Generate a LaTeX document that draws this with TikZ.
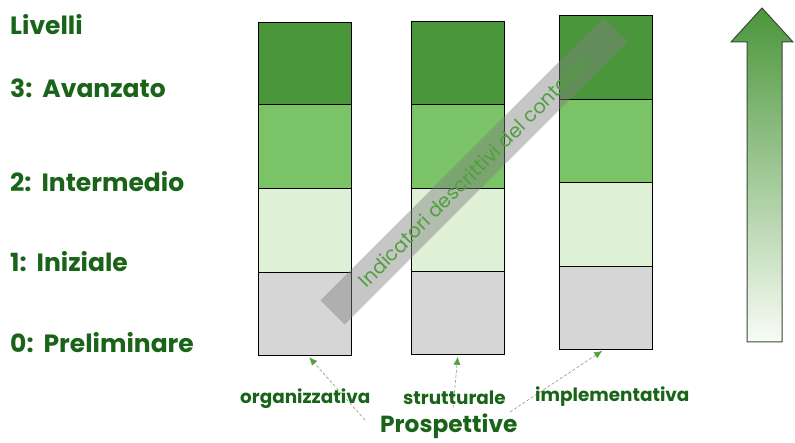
\documentclass[tikz,border=0pt]{standalone}
\usepackage{fontspec}
\setmainfont{Poppins}
\usetikzlibrary{arrows.meta}
\definecolor{txtgreen}{RGB}{26,100,26}
\definecolor{lvlthree}{RGB}{74,150,58}
\definecolor{lvltwo}{RGB}{122,195,102}
\definecolor{lvlone}{RGB}{222,240,214}
\definecolor{lvlzero}{RGB}{214,214,214}
\definecolor{arrowgreen}{RGB}{80,160,60}
\definecolor{linegray}{RGB}{150,150,120}
\definecolor{bandtext}{RGB}{80,160,60}
\tikzset{
  cell/.style={draw=black, line width=0.8pt, inner sep=0pt, anchor=north west, minimum width=93pt},
  levellabel/.style={anchor=base west, inner sep=0pt, text=txtgreen, font=\fontsize{25}{30}\selectfont\bfseries},
  perslabel/.style={anchor=base west, inner sep=0pt, text=txtgreen, font=\fontsize{18.4}{20}\selectfont\bfseries},
  pointer/.style={densely dashed, draw=linegray, line width=0.6pt, shorten >=2pt, -{Latex[length=8pt,width=7pt,color=arrowgreen]}},
}
\begin{document}
\begin{tikzpicture}[x=1pt,y=-1pt]
\useasboundingbox (0,0) rectangle (795,443);

% level labels
\node[levellabel] (liv) at (10,35) {Livelli};
\node[levellabel] (l3) at (10,98) {3:\hspace{10pt}Avanzato};
\node[levellabel] (l2) at (10,192) {2:\hspace{10pt}Intermedio};
\node[levellabel] (l1) at (10,272) {1:\hspace{10pt}Iniziale};
\node[levellabel] (l0) at (10,353) {0:\hspace{10pt}Preliminare};

% columns
\foreach \c/\x/\ya/\yb/\yc/\yd/\ye in {1/258/22/104/188/272/355, 2/411/21/104/188/271/354, 3/559/15/99/182/266/349}{
  \node[cell, fill=lvlthree, minimum height={(\yb-\ya)*1pt}] (c\c-3) at (\x,\ya) {};
  \node[cell, fill=lvltwo,   minimum height={(\yc-\yb)*1pt}] (c\c-2) at (\x,\yb) {};
  \node[cell, fill=lvlone,   minimum height={(\yd-\yc)*1pt}] (c\c-1) at (\x,\yc) {};
  \node[cell, fill=lvlzero,  minimum height={(\ye-\yd)*1pt}] (c\c-0) at (\x,\yd) {};
}

% diagonal band
\node[rotate=45, fill=gray, fill opacity=0.45, text opacity=1, minimum width=400pt, minimum height=34pt, inner sep=0pt, text=bandtext, font=\fontsize{19.5}{20}\selectfont] (band) at (474,171) {Indicatori descrittivi del contesto};

% big arrow
\shade[top color=lvlthree, middle color={rgb,255:red,115;green,188;blue,95}, bottom color={rgb,255:red,248;green,252;blue,245}, draw={rgb,255:red,60;green,70;blue,60}, line width=1pt]
  (747,342) -- (747,42) -- (731,42) -- (762,8) -- (793,42) -- (782,42) -- (782,342) -- cycle;

% perspectives
\coordinate (porg) at (365,420);
\coordinate (pstr) at (453,408);
\coordinate (pimp) at (510,412);
\draw[pointer] (porg) -- ([xshift=3pt]c1-0.south);
\draw[pointer] (pstr) -- (c2-0.south);
\draw[pointer] (pimp) -- ([xshift=-2pt]c3-0.south);

\node[perslabel] (org) at (240,403) {organizzativa};
\node[perslabel] (str) at (403,404) {strutturale};
\node[perslabel] (imp) at (535,402) {implementativa};
\node[anchor=base west, inner sep=0pt, text=txtgreen, font=\fontsize{23.3}{28}\selectfont\bfseries] (pro) at (380,432) {Prospettive};
\end{tikzpicture}
\end{document}
